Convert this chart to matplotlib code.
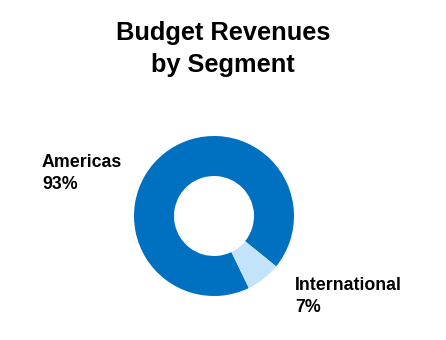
import matplotlib
matplotlib.use("Agg")
import matplotlib.pyplot as plt

title = "Budget Revenues\nby Segment"
segments = ["Americas", "International"]
shares = [93, 7]
colors = ["#0070C0", "#C3E3FB"]

plt.rcParams['font.family'] = ['Liberation Sans', 'DejaVu Sans']

W, H = 446, 340
fig = plt.figure(figsize=(W / 100, H / 100), dpi=100)

cx, cy, r = 214, 216, 80
ax = fig.add_axes([(cx - r) / W, (H - cy - r) / H, 2 * r / W, 2 * r / H])
ax.pie(shares, colors=colors, startangle=-39, counterclock=True,
       radius=1.0, wedgeprops=dict(width=0.5, edgecolor='none'))
ax.set_xlim(-1, 1)
ax.set_ylim(-1, 1)
ax.set_aspect('equal')
ax.axis('off')

fig.text(0.5, 1 - 21 / H, title, ha='center', va='top', fontsize=18.3,
         fontweight='bold', linespacing=1.42)

label_pos = [(42, 154), (295, 277)]
for (x, y), name, v in zip(label_pos, segments, shares):
    fig.text(x / W, 1 - y / H, f"{name}\n{v}%", ha='left', va='top',
             fontsize=12.8, fontweight='bold', linespacing=1.35)

fig.savefig("out.png", dpi=100)
